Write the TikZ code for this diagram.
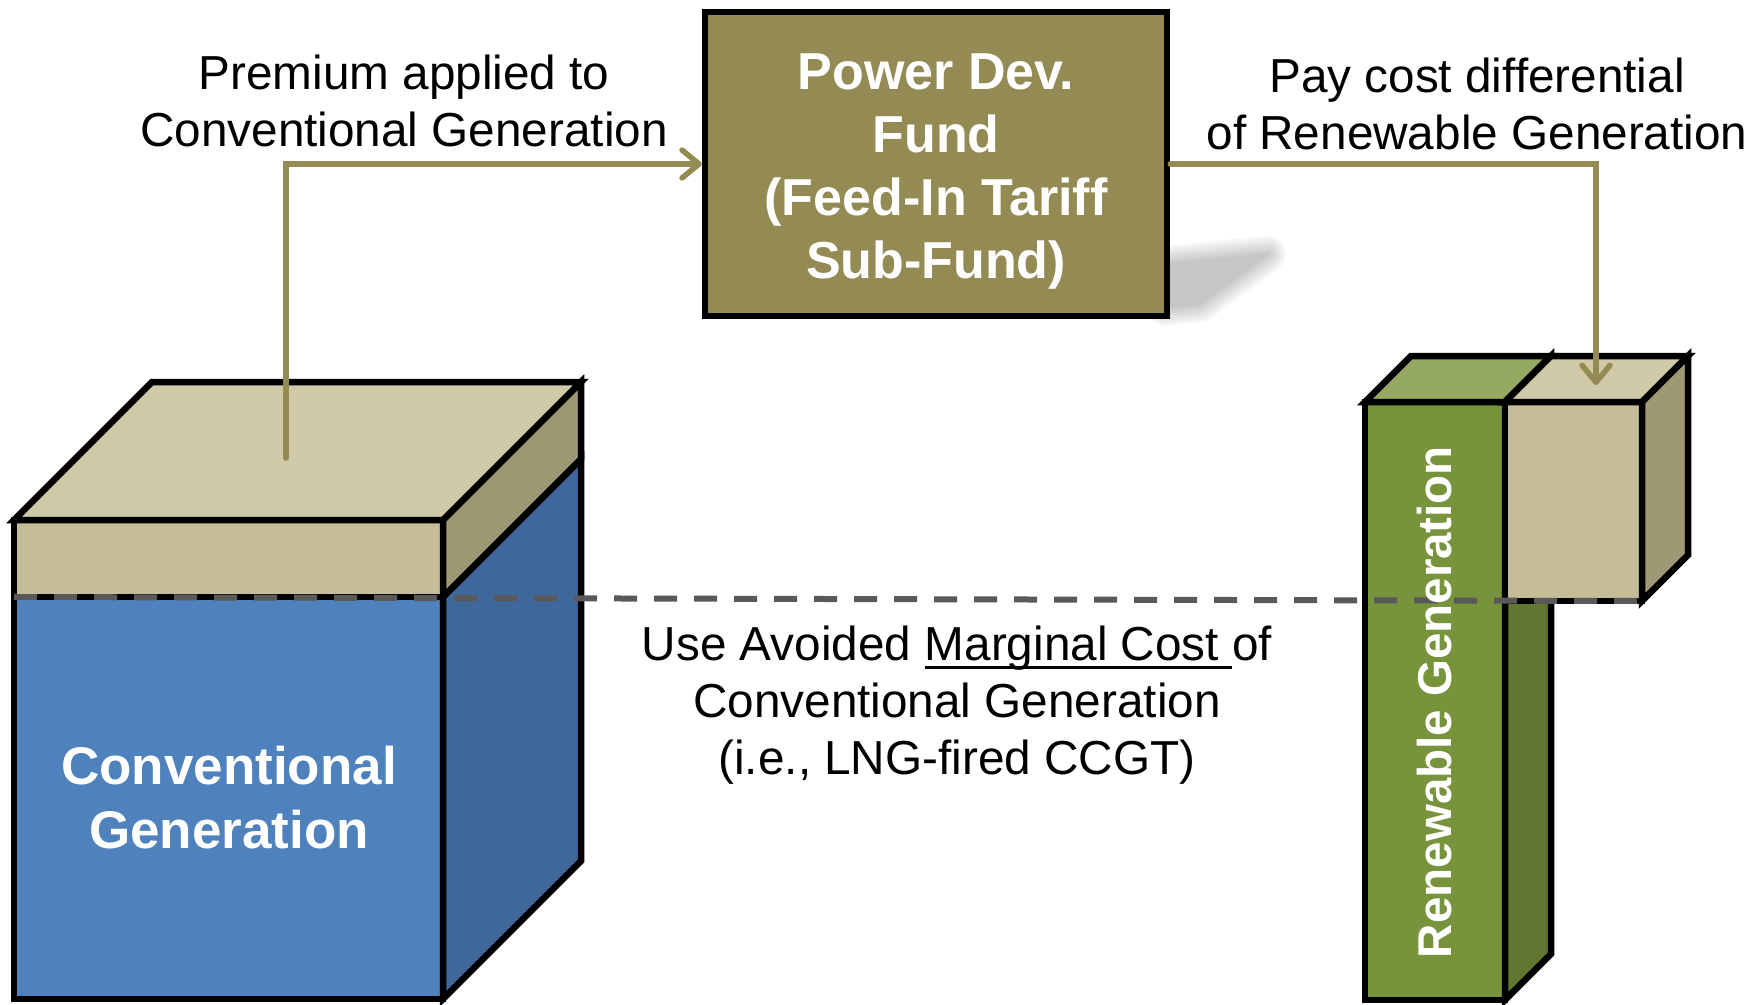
\documentclass[tikz,border=0pt]{standalone}
\usepackage{fontspec}
\setmainfont{Liberation Sans}
\usetikzlibrary{arrows.meta}

\definecolor{fundolive}{HTML}{948A54}
\definecolor{tantop}{HTML}{D0CAA8}
\definecolor{tanfront}{HTML}{C4BD97}
\definecolor{tanside}{HTML}{9E9874}
\definecolor{bluefront}{HTML}{4F81BD}
\definecolor{blueside}{HTML}{3E679B}
\definecolor{greenfront}{HTML}{77933C}
\definecolor{greentop}{HTML}{95A963}
\definecolor{greenside}{HTML}{627731}
\definecolor{dashgray}{HTML}{595959}

% underline that sits just under the baseline
\newcommand\ulmark[1]{\setbox0=\hbox{#1}\rlap{\rule[-9pt]{\wd0}{3.5pt}}\box0}

\begin{document}
\begin{tikzpicture}[x=1pt,y=-1pt,
  face/.style={draw=black, line width=6.5pt, line join=miter},
  flow/.style={draw=fundolive, line width=5.5pt, line cap=round, line join=miter,
    -{Straight Barb[length=17pt,width=28pt,round]}},
  dashline/.style={draw=dashgray, line width=6pt, dash pattern=on 23pt off 17pt},
  lbl/.style={font=\fontsize{47.7}{57}\selectfont, align=center, inner sep=0pt, text=black},
  boldw/.style={font=\fontsize{53}{64}\selectfont\bfseries, align=center, inner sep=0pt, text=white},
  fundbox/.style={face, fill=fundolive, minimum width=462pt, minimum height=304pt, inner sep=0pt},
  fundtext/.style={font=\fontsize{52}{63}\selectfont\bfseries, align=center, text=white, inner sep=0pt}
]
\useasboundingbox (0,0) rectangle (1761,1004);

% soft cast shadow of the fund box, built from stacked translucent layers
\foreach \w in {36,31,26,21,16,11,6,1}{
  \begin{scope}[transparency group, opacity=0.03]
    \filldraw[black, line width=\w pt, line join=round]
      (1165,264) -- (1268,254) -- (1200,304) -- (1165,308) -- cycle;
  \end{scope}
}

% fund box
\node[fundbox] (fund) at (936,164) {};
\node[fundtext] (fundlbl) at (936,172) {Power Dev.\\Fund\\(Feed-In Tariff\\Sub-Fund)};

% conventional generation block with premium slab on top
\draw[face, fill=bluefront] (14,597) rectangle (443,999);
\draw[face, fill=blueside] (443,597) -- (581,459) -- (581,861) -- (443,999) -- cycle;
\draw[face, fill=tanfront] (14,520) rectangle (443,597);
\draw[face, fill=tanside] (443,520) -- (581,382) -- (581,459) -- (443,597) -- cycle;
\draw[face, fill=tantop] (14,520) -- (152,382) -- (581,382) -- (443,520) -- cycle;

% renewable generation column
\draw[face, fill=greenfront] (1365,402) rectangle (1505,1000);
\draw[face, fill=greentop] (1365,402) -- (1411,356) -- (1551,356) -- (1505,402) -- cycle;
\draw[face, fill=greenside] (1505,402) -- (1551,356) -- (1551,954) -- (1505,1000) -- cycle;

% cost differential cube beside it
\draw[face, fill=tanfront] (1505,402) rectangle (1642,601);
\draw[face, fill=tantop] (1505,402) -- (1551,356) -- (1688,356) -- (1642,402) -- cycle;
\draw[face, fill=tanside] (1642,402) -- (1688,356) -- (1688,555) -- (1642,601) -- cycle;

% money flows
\coordinate (premstart) at (286,458);
\coordinate (payend) at (1596,385);
\draw[flow] (premstart) |- (fund.west);
\draw[flow] (fund.east) -| (payend);

% avoided cost level
\coordinate (dashL) at (14,597);
\coordinate (dashR) at (1642,601);
\draw[dashline] (dashL) -- (dashR);

% labels
\node[lbl] (premium) at (404,101) {Premium applied to\\Conventional Generation};
\node[lbl] (pay) at (1477,104) {Pay cost differential\\of Renewable Generation};
\node[lbl] (avoided) at (957,705) {Use Avoided \ulmark{Marginal Cost\ }of\\Conventional Generation\\(i.e., LNG-fired CCGT)};
\node[boldw] (convlbl) at (229,798) {Conventional\\Generation};
\node[boldw, font=\fontsize{47.5}{57}\selectfont\bfseries, rotate=90] (renlbl) at (1435,702) {Renewable Generation};
\end{tikzpicture}
\end{document}
